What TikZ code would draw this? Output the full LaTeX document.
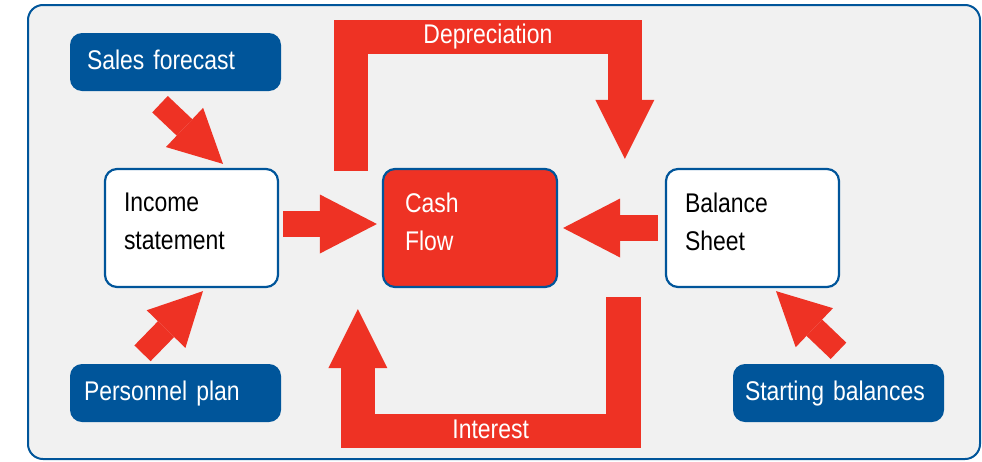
\documentclass[tikz,border=0pt]{standalone}
\usepackage{fontspec}
\setmainfont[FakeStretch=0.85,WordSpace=0.8]{Liberation Sans}
\usetikzlibrary{arrows.meta,positioning,calc}
\definecolor{flowred}{HTML}{EE3224}
\definecolor{planblue}{HTML}{00559A}
\definecolor{panelgray}{HTML}{F1F1F1}

\begin{document}
\begin{tikzpicture}[x=1pt,y=-1pt,
box/.style={draw=planblue,line width=2.2pt,rounded corners=12pt,fill=white,align=left,font=\fontsize{27}{38}\selectfont,text width=135pt,inner xsep=19pt,inner ysep=0pt,minimum height=118pt,text depth=51pt},
pill/.style={fill=planblue,rounded corners=12pt,text=white,align=left,font=\fontsize{27}{38}\selectfont,text width=183pt,inner xsep=14pt,inner ysep=0pt,minimum height=58pt,text depth=5pt},
fatarr/.style={draw=flowred,line width=22.6pt,-{Triangle[length=53pt,width=54pt,line width=0pt]}},
sidearr/.style={draw=flowred,line width=25.5pt,-{Triangle[length=57pt,width=59pt,line width=0pt]}},
bendarr/.style={draw=flowred,line width=34.5pt,-{Triangle[length=59pt,width=59pt,line width=0pt]}},
lbl/.style={text=white,font=\fontsize{27}{38}\selectfont,inner sep=0pt,text height=19pt,text depth=5pt}
]
\useasboundingbox (0,0) rectangle (982,461);
\draw[draw=planblue,line width=2pt,fill=panelgray,rounded corners=15pt] (28,5) rectangle (980,459);

\node[pill,inner xsep=17pt,text width=177pt] (sales) at (175.5,62) {Sales forecast};
\node[pill] (staff) at (175.5,393) {Personnel plan};
\node[pill,inner xsep=12pt,text width=187pt] (start) at (838.5,393) {Starting balances};
\node[box] (income) at (191.5,228) {Income\\statement};
\node[box,fill=flowred,text=white,inner xsep=22pt,text width=130pt] (cash) at (470,228) {Cash\\Flow};
\node[box] (balance) at (752.5,228) {Balance\\Sheet};

% inputs
\draw[fatarr] ([xshift=-15.5pt,yshift=-13pt]sales.south) -- ([xshift=31.5pt,yshift=4pt]income.north);
\draw[fatarr] ([xshift=-33pt,yshift=10.5pt]staff.north) -- ([xshift=11.5pt,yshift=-3pt]income.south);
\draw[fatarr] ([yshift=13pt]start.north) -- ([xshift=23.5pt,yshift=-3pt]balance.south);

\draw[sidearr] ([xshift=4pt,yshift=4pt]income.east) -- ([xshift=-5pt,yshift=4pt]cash.west);
\draw[sidearr] ([xshift=-7pt]balance.west) -- ([xshift=5pt]cash.east);

% loops round the cash flow
\draw[bendarr] ([xshift=-31pt,yshift=-3pt]cash.north west) -- ++(0,-134)
  -| node[lbl,pos=0.25] (dep) {Depreciation} ([xshift=-40pt,yshift=9pt]balance.north west);
\draw[bendarr] ([xshift=-41.5pt,yshift=-9pt]balance.south west) -- ++(0,134)
  -| node[lbl,pos=0.25] (int) {Interest} ([xshift=-24pt,yshift=-21pt]cash.south west);
\end{tikzpicture}
\end{document}
